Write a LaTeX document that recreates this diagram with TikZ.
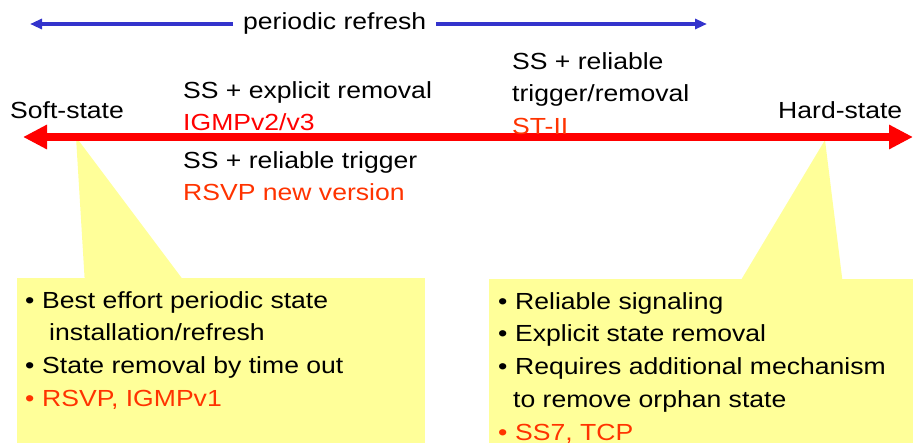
\documentclass[tikz,border=0pt]{standalone}
\usepackage{fontspec}
\setmainfont{Liberation Sans}[FakeStretch=1.14]
\usetikzlibrary{positioning,arrows.meta}
\definecolor{refblue}{RGB}{51,51,204}
\definecolor{protored}{RGB}{255,51,0}
\definecolor{noteyellow}{RGB}{255,255,153}
\newcommand{\bul}{\makebox[17pt][l]{\textbullet}}

\begin{document}
\begin{tikzpicture}[%
        x=1pt, y=-1pt,
        node distance=10pt,
        txt/.style={%
          inner sep=0pt,
          text height=17pt, text depth=5.3pt,
          anchor=north west,
          font=\fontsize{23.3pt}{28pt}\selectfont
        },
        proto/.style={txt, text=protored},
        note/.style={fill=noteyellow},
        axis/.style={line width=8pt, draw=red,
          {Triangle[length=24pt,width=23pt]}-{Triangle[length=24pt,width=23pt]}},
        refreshline/.style={line width=3.5pt, draw=refblue,
          -{Triangle[length=12pt,width=10pt]}}
      ]
      \useasboundingbox (0,0) rectangle (913,442);
      \clip (0,0) rectangle (913,442);

      % callouts
      \fill[note] (17,278) rectangle (425,450);
      \fill[note] (85,285) -- (76,137) -- (187,285) -- cycle;
      \fill[note] (489,279) rectangle (920,450);
      \fill[note] (738,285) -- (825,140) -- (843,285) -- cycle;

      % soft-state / hard-state axis
      \coordinate (soft end) at (23,137);
      \coordinate (hard end) at (913,137);
      \path (soft end) edge [axis] (hard end);
      \node[txt] (soft) at (10,101) {Soft-state};
      \node[txt] (hard) at (778,101) {Hard-state};

      % periodic refresh
      \node[txt, anchor=west, inner xsep=10pt] (refresh) at (233,24) {periodic refresh};
      \coordinate (refresh left) at (30,24);
      \coordinate (refresh right) at (707,24);
      \path (refresh.west) edge [refreshline] (refresh left)
      (refresh.east) edge [refreshline] (refresh right);

      % protocols along the axis
      \node[txt] (explicit) at (183,81) {SS + explicit removal};
      \node[below=of explicit.south west, proto, text=red] (igmp) {IGMPv2/v3};
      \node[txt] (ssrel) at (183,151) {SS + reliable trigger};
      \node[below=of ssrel.south west, proto] (rsvpnew) {RSVP new version};
      \node[txt] (sstrig) at (512,52) {SS + reliable};
      \node[below=of sstrig.south west, txt] (trigrm) {trigger/removal};
      \node[below=of trigrm.south west, proto] (st) {ST-II};

      % soft-state note
      \node[txt] (best) at (25,291) {\bul Best effort periodic state};
      \node[below=of best.south west, txt, xshift=24pt] (install) {installation/refresh};
      \node[below=of install.south west, txt, xshift=-24pt] (timeout) {\bul State removal by time out};
      \node[below=of timeout.south west, proto] (rsvp) {\bul RSVP, IGMPv1};

      % hard-state note
      \node[txt] (reliable) at (498,292) {\bul Reliable signaling};
      \node[below=of reliable.south west, txt] (explicitrm) {\bul Explicit state removal};
      \node[below=of explicitrm.south west, txt] (requires) {\bul Requires additional mechanism};
      \node[below=of requires.south west, txt, xshift=15pt] (orphan) {to remove orphan state};
      \node[below=of orphan.south west, proto, xshift=-15pt] (ss7) {\bul SS7, TCP};
    \end{tikzpicture}
\end{document}
